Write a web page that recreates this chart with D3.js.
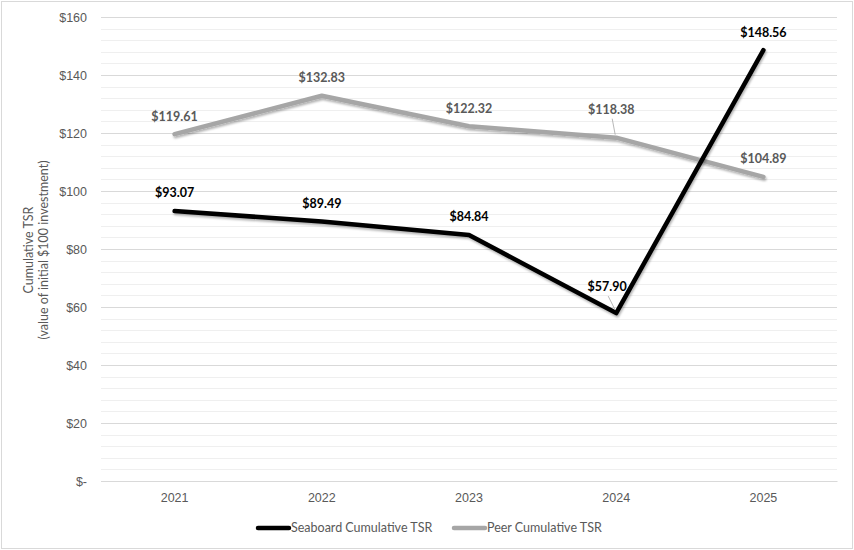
<!DOCTYPE html>
<html>
<head>
<meta charset="utf-8">
<script src="https://cdn.jsdelivr.net/npm/d3@7"></script>
<style>
  html, body { margin: 0; padding: 0; background: #fff; }
  svg { display: block; font-family: Lato, Calibri, 'Open Sans', sans-serif; }
</style>
</head>
<body>
<div id="chart"></div>
<script>
// Data
const years = ['2021', '2022', '2023', '2024', '2025']
const seaboardTSR = [93.07, 89.49, 84.84, 57.90, 148.56]
const peerTSR = [119.61, 132.83, 122.32, 118.38, 104.89]
const yTicks = [0, 20, 40, 60, 80, 100, 120, 140, 160]

const width = 854
const height = 550
const margin = { top: 17, right: 17, bottom: 69, left: 101 }
const innerW = width - margin.left - margin.right
const innerH = height - margin.top - margin.bottom

const svg = d3.select('#chart').append('svg')
  .attr('width', width)
  .attr('height', height)

// soft shadow like the office chart lines
const defs = svg.append('defs')
defs.append('filter')
  .attr('id', 'shadow')
  .attr('x', '-10%').attr('y', '-10%')
  .attr('width', '120%').attr('height', '120%')
  .append('feDropShadow')
  .attr('dx', 1).attr('dy', 2)
  .attr('stdDeviation', 1.2)
  .attr('flood-color', '#000')
  .attr('flood-opacity', 0.3)

// chart border
svg.append('rect')
  .attr('x', 1.5).attr('y', 1.5)
  .attr('width', width - 3).attr('height', height - 3)
  .attr('fill', 'none')
  .attr('stroke', '#d9d9d9')
  .attr('stroke-width', 1)

const g = svg.append('g')
  .attr('transform', `translate(${margin.left},${margin.top})`)

const x = d3.scaleBand().domain(years).range([0, innerW])
const y = d3.scaleLinear().domain([0, 160]).range([innerH, 0])
const cx = d => x(d) + x.bandwidth() / 2

// minor gridlines every $4
g.append('g')
  .selectAll('line')
  .data(d3.range(0, 161, 4).filter(v => v % 20 !== 0))
  .join('line')
  .attr('x1', 0).attr('x2', innerW)
  .attr('y1', d => Math.round(y(d)) + 0.5).attr('y2', d => Math.round(y(d)) + 0.5)
  .attr('stroke', '#efefef')

// major gridlines + y axis labels
const yAxis = g.append('g')
  .call(d3.axisLeft(y).tickValues(yTicks).tickSize(-innerW).tickPadding(14)
    .tickFormat(d => d === 0 ? '$-' : '$' + d))
yAxis.select('.domain').remove()
yAxis.selectAll('.tick line').attr('stroke', '#d9d9d9')
yAxis.selectAll('.tick text')
  .attr('fill', '#595959')
  .attr('font-size', 12.5)

// x axis labels
const xAxis = g.append('g')
  .attr('transform', `translate(0,${innerH})`)
  .call(d3.axisBottom(x).tickSize(0).tickPadding(12))
xAxis.select('.domain').attr('stroke', '#d9d9d9')
xAxis.selectAll('.tick text')
  .attr('fill', '#595959')
  .attr('font-size', 12.5)

// y axis title
const yTitle = svg.append('text')
  .attr('transform', 'translate(36,250) rotate(-90)')
  .attr('text-anchor', 'middle')
  .attr('fill', '#595959')
  .attr('font-size', 12.5)
yTitle.append('tspan').attr('x', 0).attr('dy', '-0.25em').text('Cumulative TSR')
yTitle.append('tspan').attr('x', 0).attr('dy', '1.2em').text('(value of initial $100 investment)')

const line = d3.line()
  .x((d, i) => cx(years[i]))
  .y(d => y(d))

const series = [
  { name: 'Peer Cumulative TSR', values: peerTSR, color: '#a6a6a6', labelColor: '#595959' },
  { name: 'Seaboard Cumulative TSR', values: seaboardTSR, color: '#000000', labelColor: '#000000' }
]

// labels that Excel nudged away from the point (dx, dy from point)
const nudged = {
  'Seaboard Cumulative TSR-3': [-9, -26],
  'Peer Cumulative TSR-3': [-5, -28]
}

series.forEach(s => {
  g.append('path')
    .datum(s.values)
    .attr('d', line)
    .attr('fill', 'none')
    .attr('stroke', s.color)
    .attr('stroke-width', 4.5)
    .attr('stroke-linejoin', 'round')
    .attr('stroke-linecap', 'round')
    .attr('filter', 'url(#shadow)')
})

series.forEach(s => {
  s.values.forEach((v, i) => {
    const px = cx(years[i])
    const py = y(v)
    const nd = nudged[s.name + '-' + i]
    const off = nd || [0, -18]
    if (nd) {
      g.append('line')
        .attr('x1', px + off[0] + 1).attr('y1', py + off[1] + 9)
        .attr('x2', px - 1).attr('y2', py - 3)
        .attr('stroke', '#a6a6a6')
        .attr('stroke-width', 0.8)
    }
    g.append('text')
      .attr('x', px + off[0])
      .attr('y', py + off[1])
      .attr('dy', '0.35em')
      .attr('text-anchor', 'middle')
      .attr('font-weight', 'bold')
      .attr('font-size', 12.5)
      .attr('fill', s.labelColor)
      .text('$' + v.toFixed(2))
  })
})

// legend
const legendItems = [
  { name: 'Seaboard Cumulative TSR', color: '#000000', x: 258 },
  { name: 'Peer Cumulative TSR', color: '#a6a6a6', x: 454 }
]
const legend = svg.append('g').attr('transform', 'translate(0,528)')
legendItems.forEach(it => {
  legend.append('line')
    .attr('x1', it.x).attr('x2', it.x + 31)
    .attr('y1', 0).attr('y2', 0)
    .attr('stroke', it.color)
    .attr('stroke-width', 4.5)
    .attr('stroke-linecap', 'round')
  legend.append('text')
    .attr('x', it.x + 33)
    .attr('y', 0)
    .attr('dy', '0.35em')
    .attr('fill', '#595959')
    .attr('font-size', 12.5)
    .text(it.name)
})
</script>
</body>
</html>
